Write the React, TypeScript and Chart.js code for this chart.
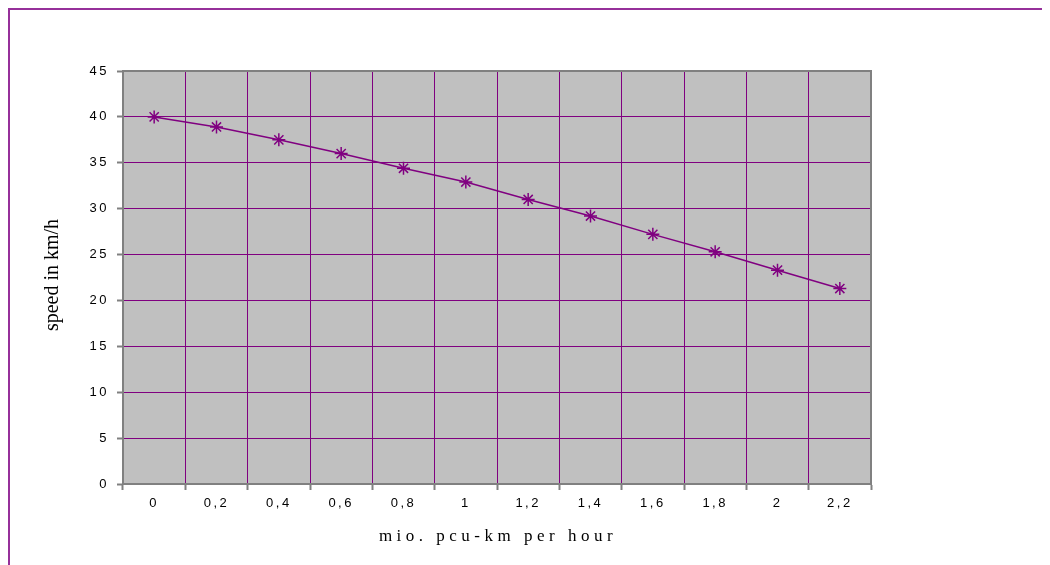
import React, { useEffect, useRef } from "react";
import { Chart, registerables } from "chart.js";

Chart.register(...registerables);

const categories = ["0", "0,2", "0,4", "0,6", "0,8", "1", "1,2", "1,4", "1,6", "1,8", "2", "2,2"];
const speedValues = [40, 38.9, 37.5, 36.0, 34.4, 32.9, 31.0, 29.2, 27.2, 25.3, 23.3, 21.3];
const yTitle = "speed in km/h";
const xTitle = "mio. pcu-km per hour";

const PURPLE = "#800080";
const FRAME = "#96309A";
const GRAY = "#808080";

const decorPlugin = {
  id: "decor",
  beforeDraw(chart: any) {
    const { ctx, chartArea } = chart;
    ctx.save();
    ctx.fillStyle = "#C0C0C0";
    ctx.fillRect(chartArea.left, chartArea.top, chartArea.right - chartArea.left, chartArea.bottom - chartArea.top);
    ctx.restore();
    (ctx as any).letterSpacing = "2.5px";
  },
  beforeDatasetsDraw(chart: any) {
    const { ctx, chartArea } = chart;
    ctx.save();
    ctx.strokeStyle = GRAY;
    ctx.lineWidth = 2;
    ctx.strokeRect(chartArea.left, chartArea.top, chartArea.right - chartArea.left, chartArea.bottom - chartArea.top);
    ctx.restore();
  },
  afterDraw(chart: any) {
    const { ctx, chartArea } = chart;
    ctx.save();
    (ctx as any).letterSpacing = "0px";
    ctx.fillStyle = "#000";
    ctx.font = "20px 'Liberation Serif', serif";
    ctx.textAlign = "center";
    ctx.textBaseline = "middle";
    ctx.translate(43, 265);
    ctx.rotate(-Math.PI / 2);
    ctx.fillText(yTitle, 0, 0);
    ctx.restore();

    ctx.save();
    (ctx as any).letterSpacing = "4.5px";
    ctx.fillStyle = "#000";
    ctx.font = "17px 'Liberation Serif', serif";
    ctx.textAlign = "center";
    ctx.textBaseline = "middle";
    ctx.fillText(xTitle, (chartArea.left + chartArea.right) / 2 + 1, 527);
    ctx.restore();
    (ctx as any).letterSpacing = "0px";
  },
};

export default function App() {
  const ref = useRef<HTMLCanvasElement | null>(null);
  useEffect(() => {
    if (!ref.current) return;
    const chart = new Chart(ref.current, {
      type: "line",
      data: {
        labels: categories,
        datasets: [
          {
            data: speedValues,
            borderColor: PURPLE,
            backgroundColor: PURPLE,
            borderWidth: 1.5,
            pointStyle: "star",
            pointRadius: 6.5,
            pointBorderWidth: 1.5,
            pointBorderColor: PURPLE,
            tension: 0,
          },
        ],
      },
      options: {
        animation: false,
        responsive: false,
        layout: { padding: { top: 61, right: 179, left: 0, bottom: 0 } },
        plugins: { legend: { display: false }, tooltip: { enabled: false } },
        scales: {
          x: {
            type: "category",
            offset: true,
            grid: { offset: true, color: PURPLE, lineWidth: 1, tickColor: GRAY, tickLength: 6, tickWidth: 2 },
            border: { color: GRAY, width: 2 },
            ticks: {
              color: "#000",
              font: { family: "'Liberation Sans', Arial, sans-serif", size: 13 },
              padding: 6,
              maxRotation: 0,
              autoSkip: false,
            },
            afterFit: (s: any) => {
              s.height = 81;
            },
          },
          y: {
            min: 0,
            max: 45,
            grid: { color: PURPLE, lineWidth: 1, tickColor: GRAY, tickLength: 6, tickWidth: 2 },
            border: { color: GRAY, width: 2 },
            ticks: {
              stepSize: 5,
              color: "#000",
              font: { family: "'Liberation Sans', Arial, sans-serif", size: 13 },
              padding: 8,
            },
            afterFit: (s: any) => {
              s.width = 113;
            },
          },
        },
      },
      plugins: [decorPlugin],
    });
    return () => chart.destroy();
  }, []);
  return (
    <div style={{ borderLeft: `2px solid ${FRAME}`, borderTop: `2px solid ${FRAME}`, width: 1042, height: 557 }}>
      <canvas ref={ref} width={1040} height={555} style={{ display: "block" }} />
    </div>
  );
}
